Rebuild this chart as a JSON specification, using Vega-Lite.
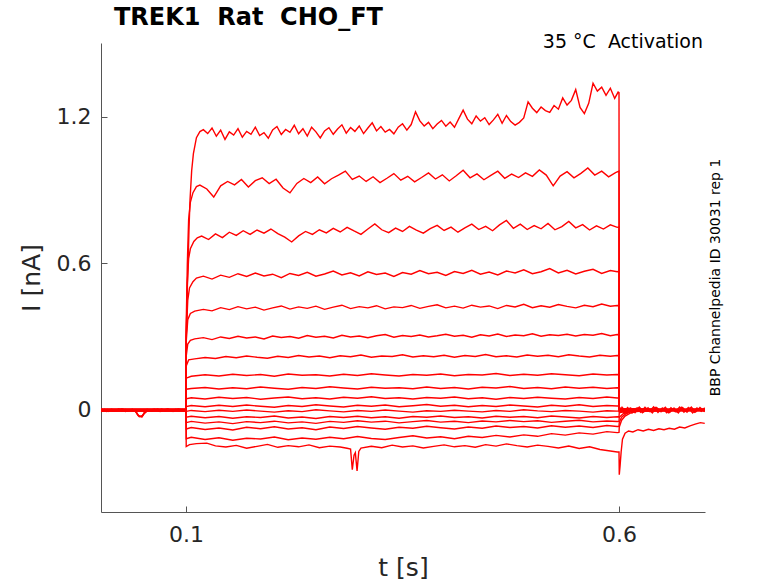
{
  "$schema": "https://vega.github.io/schema/vega-lite/v6.json",
  "width": 604,
  "height": 469,
  "autosize": {"type": "none"},
  "padding": {"left": 101, "top": 43, "right": 73, "bottom": 71},
  "background": "white",
  "title": {"text": "TREK1\u00a0 Rat\u00a0 CHO_FT", "anchor": "start", "frame": "group", "dx": 13, "offset": 3, "fontSize": 24, "fontWeight": "bold", "font": "DejaVu Sans", "color": "black"},
  "config": {
    "view": {"stroke": null},
    "font": "DejaVu Sans",
    "axis": {"grid": false, "domainColor": "#555555", "tickColor": "#555555", "tickSize": -6, "labelColor": "#262626", "titleColor": "#262626", "labelFont": "DejaVu Sans", "titleFont": "DejaVu Sans", "labelFontSize": 22, "titleFontSize": 25, "titleFontWeight": "normal"}
  },
  "data": {"values": [
    {"s":1,"t":0.002,"i":-0.004},{"s":1,"t":0.006,"i":0.003},{"s":1,"t":0.010,"i":-0.006},{"s":1,"t":0.014,"i":0.001},{"s":1,"t":0.018,"i":-0.003},{"s":1,"t":0.022,"i":0.004},{"s":1,"t":0.026,"i":-0.005},{"s":1,"t":0.030,"i":0.002},{"s":1,"t":0.034,"i":-0.002},{"s":1,"t":0.038,"i":0.003},{"s":1,"t":0.041,"i":-0.004},{"s":1,"t":0.043,"i":-0.012},{"s":1,"t":0.045,"i":-0.024},{"s":1,"t":0.047,"i":-0.027},{"s":1,"t":0.049,"i":-0.025},{"s":1,"t":0.051,"i":-0.016},{"s":1,"t":0.053,"i":-0.003},{"s":1,"t":0.056,"i":0.002},{"s":1,"t":0.060,"i":-0.004},{"s":1,"t":0.064,"i":0.003},{"s":1,"t":0.068,"i":-0.002},{"s":1,"t":0.072,"i":0.004},{"s":1,"t":0.076,"i":-0.005},{"s":1,"t":0.080,"i":0.001},{"s":1,"t":0.084,"i":-0.003},{"s":1,"t":0.088,"i":0.003},{"s":1,"t":0.092,"i":-0.004},{"s":1,"t":0.096,"i":0.002},{"s":1,"t":0.1,"i":-0.002},
    {"s":1,"t":0.1002,"i":0.3},{"s":1,"t":0.1015,"i":0.5},{"s":1,"t":0.1025,"i":0.62},{"s":1,"t":0.1035,"i":0.75},{"s":1,"t":0.1046,"i":0.86},{"s":1,"t":0.1065,"i":0.98},{"s":1,"t":0.1085,"i":1.05},{"s":1,"t":0.112,"i":1.115},{"s":1,"t":0.116,"i":1.14},{"s":1,"t":0.12,"i":1.148},
    {"s":1,"t":0.125,"i":1.132},{"s":1,"t":0.130,"i":1.155},{"s":1,"t":0.135,"i":1.121},{"s":1,"t":0.140,"i":1.146},{"s":1,"t":0.145,"i":1.108},{"s":1,"t":0.150,"i":1.139},{"s":1,"t":0.155,"i":1.126},{"s":1,"t":0.160,"i":1.152},{"s":1,"t":0.165,"i":1.117},{"s":1,"t":0.170,"i":1.141},{"s":1,"t":0.175,"i":1.129},{"s":1,"t":0.180,"i":1.158},{"s":1,"t":0.185,"i":1.124},{"s":1,"t":0.190,"i":1.136},{"s":1,"t":0.195,"i":1.113},{"s":1,"t":0.200,"i":1.147},{"s":1,"t":0.205,"i":1.161},{"s":1,"t":0.210,"i":1.128},{"s":1,"t":0.215,"i":1.149},{"s":1,"t":0.220,"i":1.137},{"s":1,"t":0.225,"i":1.166},{"s":1,"t":0.230,"i":1.131},{"s":1,"t":0.235,"i":1.152},{"s":1,"t":0.240,"i":1.122},{"s":1,"t":0.245,"i":1.158},{"s":1,"t":0.250,"i":1.139},{"s":1,"t":0.255,"i":1.114},{"s":1,"t":0.260,"i":1.143},{"s":1,"t":0.265,"i":1.156},{"s":1,"t":0.270,"i":1.129},{"s":1,"t":0.275,"i":1.151},{"s":1,"t":0.280,"i":1.168},{"s":1,"t":0.285,"i":1.134},{"s":1,"t":0.290,"i":1.157},{"s":1,"t":0.295,"i":1.141},{"s":1,"t":0.300,"i":1.163},{"s":1,"t":0.305,"i":1.132},{"s":1,"t":0.310,"i":1.155},{"s":1,"t":0.315,"i":1.176},{"s":1,"t":0.320,"i":1.143},{"s":1,"t":0.325,"i":1.161},{"s":1,"t":0.330,"i":1.138},{"s":1,"t":0.335,"i":1.149},{"s":1,"t":0.340,"i":1.131},{"s":1,"t":0.345,"i":1.158},{"s":1,"t":0.350,"i":1.172},{"s":1,"t":0.355,"i":1.146},{"s":1,"t":0.360,"i":1.169},{"s":1,"t":0.365,"i":1.221},{"s":1,"t":0.370,"i":1.184},{"s":1,"t":0.375,"i":1.163},{"s":1,"t":0.380,"i":1.178},{"s":1,"t":0.385,"i":1.152},{"s":1,"t":0.390,"i":1.171},{"s":1,"t":0.395,"i":1.186},{"s":1,"t":0.400,"i":1.162},{"s":1,"t":0.405,"i":1.179},{"s":1,"t":0.410,"i":1.158},{"s":1,"t":0.415,"i":1.193},{"s":1,"t":0.420,"i":1.228},{"s":1,"t":0.425,"i":1.191},{"s":1,"t":0.430,"i":1.172},{"s":1,"t":0.435,"i":1.204},{"s":1,"t":0.440,"i":1.183},{"s":1,"t":0.445,"i":1.197},{"s":1,"t":0.450,"i":1.169},{"s":1,"t":0.455,"i":1.188},{"s":1,"t":0.460,"i":1.211},{"s":1,"t":0.465,"i":1.174},{"s":1,"t":0.470,"i":1.206},{"s":1,"t":0.475,"i":1.181},{"s":1,"t":0.480,"i":1.167},{"s":1,"t":0.485,"i":1.178},{"s":1,"t":0.490,"i":1.196},{"s":1,"t":0.495,"i":1.262},{"s":1,"t":0.500,"i":1.236},{"s":1,"t":0.505,"i":1.218},{"s":1,"t":0.510,"i":1.241},{"s":1,"t":0.515,"i":1.226},{"s":1,"t":0.520,"i":1.219},{"s":1,"t":0.525,"i":1.247},{"s":1,"t":0.530,"i":1.232},{"s":1,"t":0.535,"i":1.278},{"s":1,"t":0.540,"i":1.249},{"s":1,"t":0.545,"i":1.268},{"s":1,"t":0.550,"i":1.312},{"s":1,"t":0.555,"i":1.239},{"s":1,"t":0.560,"i":1.214},{"s":1,"t":0.565,"i":1.256},{"s":1,"t":0.570,"i":1.338},{"s":1,"t":0.575,"i":1.306},{"s":1,"t":0.580,"i":1.322},{"s":1,"t":0.585,"i":1.289},{"s":1,"t":0.590,"i":1.318},{"s":1,"t":0.595,"i":1.276},{"s":1,"t":0.599,"i":1.302},{"s":1,"t":0.6,"i":1.3},
    {"s":1,"t":0.6003,"i":0.012},{"s":1,"t":0.605,"i":-0.008},{"s":1,"t":0.61,"i":0.01},{"s":1,"t":0.615,"i":-0.012},{"s":1,"t":0.62,"i":0.007},{"s":1,"t":0.625,"i":-0.009},{"s":1,"t":0.63,"i":0.011},{"s":1,"t":0.635,"i":-0.006},{"s":1,"t":0.64,"i":0.013},{"s":1,"t":0.645,"i":-0.01},{"s":1,"t":0.65,"i":0.008},{"s":1,"t":0.655,"i":-0.011},{"s":1,"t":0.66,"i":0.009},{"s":1,"t":0.665,"i":-0.007},{"s":1,"t":0.67,"i":0.012},{"s":1,"t":0.675,"i":-0.009},{"s":1,"t":0.68,"i":0.01},{"s":1,"t":0.685,"i":-0.012},{"s":1,"t":0.69,"i":0.008},{"s":1,"t":0.695,"i":-0.006},{"s":1,"t":0.699,"i":0.009},

    {"s":2,"t":0.002,"i":0.004},{"s":2,"t":0.008,"i":-0.006},{"s":2,"t":0.014,"i":0.003},{"s":2,"t":0.02,"i":-0.004},{"s":2,"t":0.026,"i":0.005},{"s":2,"t":0.032,"i":-0.003},{"s":2,"t":0.038,"i":0.002},{"s":2,"t":0.042,"i":-0.008},{"s":2,"t":0.044,"i":-0.02},{"s":2,"t":0.046,"i":-0.028},{"s":2,"t":0.048,"i":-0.026},{"s":2,"t":0.05,"i":-0.022},{"s":2,"t":0.052,"i":-0.01},{"s":2,"t":0.055,"i":0.003},{"s":2,"t":0.061,"i":-0.005},{"s":2,"t":0.067,"i":0.004},{"s":2,"t":0.073,"i":-0.003},{"s":2,"t":0.079,"i":0.005},{"s":2,"t":0.085,"i":-0.006},{"s":2,"t":0.091,"i":0.002},{"s":2,"t":0.097,"i":-0.004},{"s":2,"t":0.1,"i":0.001},
    {"s":2,"t":0.1002,"i":0.35},{"s":2,"t":0.1015,"i":0.6},{"s":2,"t":0.103,"i":0.78},{"s":2,"t":0.105,"i":0.85},{"s":2,"t":0.108,"i":0.89},{"s":2,"t":0.112,"i":0.915},
    {"s":2,"t":0.116,"i":0.921},{"s":2,"t":0.124,"i":0.905},{"s":2,"t":0.132,"i":0.872},{"s":2,"t":0.140,"i":0.918},{"s":2,"t":0.148,"i":0.936},{"s":2,"t":0.156,"i":0.922},{"s":2,"t":0.164,"i":0.944},{"s":2,"t":0.172,"i":0.913},{"s":2,"t":0.180,"i":0.939},{"s":2,"t":0.188,"i":0.951},{"s":2,"t":0.196,"i":0.927},{"s":2,"t":0.204,"i":0.945},{"s":2,"t":0.212,"i":0.909},{"s":2,"t":0.220,"i":0.889},{"s":2,"t":0.228,"i":0.928},{"s":2,"t":0.236,"i":0.948},{"s":2,"t":0.244,"i":0.931},{"s":2,"t":0.252,"i":0.954},{"s":2,"t":0.260,"i":0.926},{"s":2,"t":0.268,"i":0.947},{"s":2,"t":0.276,"i":0.962},{"s":2,"t":0.284,"i":0.978},{"s":2,"t":0.292,"i":0.944},{"s":2,"t":0.300,"i":0.958},{"s":2,"t":0.308,"i":0.936},{"s":2,"t":0.316,"i":0.955},{"s":2,"t":0.324,"i":0.931},{"s":2,"t":0.332,"i":0.949},{"s":2,"t":0.340,"i":0.968},{"s":2,"t":0.348,"i":0.941},{"s":2,"t":0.356,"i":0.957},{"s":2,"t":0.364,"i":0.934},{"s":2,"t":0.372,"i":0.952},{"s":2,"t":0.380,"i":0.971},{"s":2,"t":0.388,"i":0.946},{"s":2,"t":0.396,"i":0.963},{"s":2,"t":0.404,"i":0.938},{"s":2,"t":0.412,"i":0.959},{"s":2,"t":0.420,"i":0.982},{"s":2,"t":0.428,"i":0.951},{"s":2,"t":0.436,"i":0.967},{"s":2,"t":0.444,"i":0.943},{"s":2,"t":0.452,"i":0.961},{"s":2,"t":0.460,"i":0.978},{"s":2,"t":0.468,"i":0.949},{"s":2,"t":0.476,"i":0.966},{"s":2,"t":0.484,"i":0.952},{"s":2,"t":0.492,"i":0.971},{"s":2,"t":0.500,"i":0.957},{"s":2,"t":0.508,"i":0.983},{"s":2,"t":0.516,"i":0.962},{"s":2,"t":0.524,"i":0.918},{"s":2,"t":0.532,"i":0.958},{"s":2,"t":0.540,"i":0.976},{"s":2,"t":0.548,"i":0.951},{"s":2,"t":0.556,"i":0.969},{"s":2,"t":0.564,"i":0.991},{"s":2,"t":0.572,"i":0.962},{"s":2,"t":0.580,"i":0.978},{"s":2,"t":0.588,"i":0.955},{"s":2,"t":0.596,"i":0.972},{"s":2,"t":0.6,"i":0.978},
    {"s":2,"t":0.6003,"i":-0.01},{"s":2,"t":0.6035,"i":0.011},{"s":2,"t":0.6085,"i":-0.009},{"s":2,"t":0.6135,"i":0.008},{"s":2,"t":0.6185,"i":-0.011},{"s":2,"t":0.6235,"i":0.012},{"s":2,"t":0.6285,"i":-0.008},{"s":2,"t":0.6335,"i":0.009},{"s":2,"t":0.6385,"i":-0.012},{"s":2,"t":0.6435,"i":0.01},{"s":2,"t":0.6485,"i":-0.007},{"s":2,"t":0.6535,"i":0.011},{"s":2,"t":0.6585,"i":-0.01},{"s":2,"t":0.6635,"i":0.008},{"s":2,"t":0.6685,"i":-0.012},{"s":2,"t":0.6735,"i":0.01},{"s":2,"t":0.6785,"i":-0.009},{"s":2,"t":0.6835,"i":0.012},{"s":2,"t":0.6885,"i":-0.008},{"s":2,"t":0.6935,"i":0.01},{"s":2,"t":0.699,"i":-0.007},

    {"s":3,"t":0.002,"i":-0.007},{"s":3,"t":0.009,"i":0.002},{"s":3,"t":0.016,"i":-0.005},{"s":3,"t":0.023,"i":0.003},{"s":3,"t":0.03,"i":-0.006},{"s":3,"t":0.037,"i":0.001},{"s":3,"t":0.042,"i":-0.006},{"s":3,"t":0.045,"i":-0.022},{"s":3,"t":0.049,"i":-0.029},{"s":3,"t":0.052,"i":-0.014},{"s":3,"t":0.056,"i":-0.002},{"s":3,"t":0.063,"i":0.003},{"s":3,"t":0.07,"i":-0.006},{"s":3,"t":0.077,"i":0.002},{"s":3,"t":0.084,"i":-0.004},{"s":3,"t":0.091,"i":0.004},{"s":3,"t":0.1,"i":-0.003},
    {"s":3,"t":0.1002,"i":0.3},{"s":3,"t":0.1015,"i":0.52},{"s":3,"t":0.103,"i":0.62},{"s":3,"t":0.105,"i":0.66},{"s":3,"t":0.109,"i":0.69},{"s":3,"t":0.113,"i":0.705},
    {"s":3,"t":0.118,"i":0.712},{"s":3,"t":0.126,"i":0.698},{"s":3,"t":0.134,"i":0.721},{"s":3,"t":0.142,"i":0.706},{"s":3,"t":0.150,"i":0.728},{"s":3,"t":0.158,"i":0.715},{"s":3,"t":0.166,"i":0.734},{"s":3,"t":0.174,"i":0.719},{"s":3,"t":0.182,"i":0.737},{"s":3,"t":0.190,"i":0.724},{"s":3,"t":0.198,"i":0.741},{"s":3,"t":0.206,"i":0.722},{"s":3,"t":0.214,"i":0.708},{"s":3,"t":0.222,"i":0.688},{"s":3,"t":0.230,"i":0.713},{"s":3,"t":0.238,"i":0.731},{"s":3,"t":0.246,"i":0.719},{"s":3,"t":0.254,"i":0.738},{"s":3,"t":0.262,"i":0.725},{"s":3,"t":0.270,"i":0.744},{"s":3,"t":0.278,"i":0.729},{"s":3,"t":0.286,"i":0.748},{"s":3,"t":0.294,"i":0.733},{"s":3,"t":0.302,"i":0.719},{"s":3,"t":0.310,"i":0.741},{"s":3,"t":0.318,"i":0.762},{"s":3,"t":0.326,"i":0.738},{"s":3,"t":0.334,"i":0.726},{"s":3,"t":0.342,"i":0.745},{"s":3,"t":0.350,"i":0.731},{"s":3,"t":0.358,"i":0.752},{"s":3,"t":0.366,"i":0.737},{"s":3,"t":0.374,"i":0.724},{"s":3,"t":0.382,"i":0.743},{"s":3,"t":0.390,"i":0.756},{"s":3,"t":0.398,"i":0.735},{"s":3,"t":0.406,"i":0.749},{"s":3,"t":0.414,"i":0.728},{"s":3,"t":0.422,"i":0.746},{"s":3,"t":0.430,"i":0.761},{"s":3,"t":0.438,"i":0.739},{"s":3,"t":0.446,"i":0.752},{"s":3,"t":0.454,"i":0.734},{"s":3,"t":0.462,"i":0.758},{"s":3,"t":0.470,"i":0.776},{"s":3,"t":0.478,"i":0.744},{"s":3,"t":0.486,"i":0.761},{"s":3,"t":0.494,"i":0.739},{"s":3,"t":0.502,"i":0.755},{"s":3,"t":0.510,"i":0.742},{"s":3,"t":0.518,"i":0.764},{"s":3,"t":0.526,"i":0.738},{"s":3,"t":0.534,"i":0.751},{"s":3,"t":0.542,"i":0.772},{"s":3,"t":0.550,"i":0.746},{"s":3,"t":0.558,"i":0.759},{"s":3,"t":0.566,"i":0.737},{"s":3,"t":0.574,"i":0.754},{"s":3,"t":0.582,"i":0.741},{"s":3,"t":0.590,"i":0.758},{"s":3,"t":0.598,"i":0.748},{"s":3,"t":0.6,"i":0.75},
    {"s":3,"t":0.6003,"i":0.004},{"s":3,"t":0.607,"i":-0.013},{"s":3,"t":0.612,"i":0.006},{"s":3,"t":0.617,"i":-0.004},{"s":3,"t":0.622,"i":0.009},{"s":3,"t":0.627,"i":-0.011},{"s":3,"t":0.632,"i":0.005},{"s":3,"t":0.637,"i":-0.008},{"s":3,"t":0.642,"i":0.01},{"s":3,"t":0.647,"i":-0.005},{"s":3,"t":0.652,"i":0.007},{"s":3,"t":0.657,"i":-0.012},{"s":3,"t":0.662,"i":0.004},{"s":3,"t":0.667,"i":-0.009},{"s":3,"t":0.672,"i":0.011},{"s":3,"t":0.677,"i":-0.006},{"s":3,"t":0.682,"i":0.008},{"s":3,"t":0.687,"i":-0.01},{"s":3,"t":0.692,"i":0.005},{"s":3,"t":0.699,"i":-0.004},

    {"s":4,"t":0.002,"i":-0.002},{"s":4,"t":0.1,"i":-0.002},{"s":4,"t":0.1002,"i":0.3},{"s":4,"t":0.102,"i":0.45},{"s":4,"t":0.104,"i":0.5},{"s":4,"t":0.108,"i":0.525},{"s":4,"t":0.112,"i":0.54},
    {"s":4,"t":0.12,"i":0.548},{"s":4,"t":0.13,"i":0.536},{"s":4,"t":0.14,"i":0.552},{"s":4,"t":0.15,"i":0.543},{"s":4,"t":0.16,"i":0.558},{"s":4,"t":0.17,"i":0.547},{"s":4,"t":0.18,"i":0.561},{"s":4,"t":0.19,"i":0.549},{"s":4,"t":0.2,"i":0.556},{"s":4,"t":0.21,"i":0.542},{"s":4,"t":0.22,"i":0.559},{"s":4,"t":0.23,"i":0.551},{"s":4,"t":0.24,"i":0.564},{"s":4,"t":0.25,"i":0.548},{"s":4,"t":0.26,"i":0.557},{"s":4,"t":0.27,"i":0.569},{"s":4,"t":0.28,"i":0.553},{"s":4,"t":0.29,"i":0.562},{"s":4,"t":0.3,"i":0.549},{"s":4,"t":0.31,"i":0.566},{"s":4,"t":0.32,"i":0.555},{"s":4,"t":0.33,"i":0.561},{"s":4,"t":0.34,"i":0.547},{"s":4,"t":0.35,"i":0.563},{"s":4,"t":0.36,"i":0.556},{"s":4,"t":0.37,"i":0.571},{"s":4,"t":0.38,"i":0.558},{"s":4,"t":0.39,"i":0.564},{"s":4,"t":0.4,"i":0.551},{"s":4,"t":0.41,"i":0.567},{"s":4,"t":0.42,"i":0.559},{"s":4,"t":0.43,"i":0.572},{"s":4,"t":0.44,"i":0.556},{"s":4,"t":0.45,"i":0.565},{"s":4,"t":0.46,"i":0.553},{"s":4,"t":0.47,"i":0.569},{"s":4,"t":0.48,"i":0.561},{"s":4,"t":0.49,"i":0.574},{"s":4,"t":0.5,"i":0.558},{"s":4,"t":0.51,"i":0.566},{"s":4,"t":0.52,"i":0.579},{"s":4,"t":0.53,"i":0.561},{"s":4,"t":0.54,"i":0.572},{"s":4,"t":0.55,"i":0.557},{"s":4,"t":0.56,"i":0.568},{"s":4,"t":0.57,"i":0.576},{"s":4,"t":0.58,"i":0.559},{"s":4,"t":0.59,"i":0.571},{"s":4,"t":0.598,"i":0.566},{"s":4,"t":0.6,"i":0.568},{"s":4,"t":0.6003,"i":0.004},{"s":4,"t":0.699,"i":0.002},

    {"s":5,"t":0.002,"i":0.001},{"s":5,"t":0.1,"i":0.001},{"s":5,"t":0.1002,"i":0.28},{"s":5,"t":0.102,"i":0.37},{"s":5,"t":0.105,"i":0.395},{"s":5,"t":0.11,"i":0.405},
    {"s":5,"t":0.12,"i":0.412},{"s":5,"t":0.13,"i":0.406},{"s":5,"t":0.14,"i":0.419},{"s":5,"t":0.15,"i":0.411},{"s":5,"t":0.16,"i":0.423},{"s":5,"t":0.17,"i":0.414},{"s":5,"t":0.18,"i":0.421},{"s":5,"t":0.19,"i":0.409},{"s":5,"t":0.2,"i":0.418},{"s":5,"t":0.21,"i":0.426},{"s":5,"t":0.22,"i":0.413},{"s":5,"t":0.23,"i":0.422},{"s":5,"t":0.24,"i":0.416},{"s":5,"t":0.25,"i":0.425},{"s":5,"t":0.26,"i":0.412},{"s":5,"t":0.27,"i":0.421},{"s":5,"t":0.28,"i":0.429},{"s":5,"t":0.29,"i":0.415},{"s":5,"t":0.3,"i":0.423},{"s":5,"t":0.31,"i":0.418},{"s":5,"t":0.32,"i":0.427},{"s":5,"t":0.33,"i":0.414},{"s":5,"t":0.34,"i":0.422},{"s":5,"t":0.35,"i":0.419},{"s":5,"t":0.36,"i":0.428},{"s":5,"t":0.37,"i":0.416},{"s":5,"t":0.38,"i":0.424},{"s":5,"t":0.39,"i":0.431},{"s":5,"t":0.4,"i":0.418},{"s":5,"t":0.41,"i":0.425},{"s":5,"t":0.42,"i":0.417},{"s":5,"t":0.43,"i":0.429},{"s":5,"t":0.44,"i":0.421},{"s":5,"t":0.45,"i":0.426},{"s":5,"t":0.46,"i":0.415},{"s":5,"t":0.47,"i":0.428},{"s":5,"t":0.48,"i":0.422},{"s":5,"t":0.49,"i":0.433},{"s":5,"t":0.5,"i":0.419},{"s":5,"t":0.51,"i":0.427},{"s":5,"t":0.52,"i":0.421},{"s":5,"t":0.53,"i":0.432},{"s":5,"t":0.54,"i":0.424},{"s":5,"t":0.55,"i":0.418},{"s":5,"t":0.56,"i":0.429},{"s":5,"t":0.57,"i":0.423},{"s":5,"t":0.58,"i":0.434},{"s":5,"t":0.59,"i":0.425},{"s":5,"t":0.598,"i":0.428},{"s":5,"t":0.6,"i":0.427},{"s":5,"t":0.6003,"i":-0.003},{"s":5,"t":0.699,"i":0.001},

    {"s":6,"t":0.002,"i":-0.003},{"s":6,"t":0.1,"i":-0.003},{"s":6,"t":0.1002,"i":0.22},{"s":6,"t":0.102,"i":0.27},{"s":6,"t":0.105,"i":0.285},
    {"s":6,"t":0.11,"i":0.291},{"s":6,"t":0.12,"i":0.296},{"s":6,"t":0.13,"i":0.288},{"s":6,"t":0.14,"i":0.299},{"s":6,"t":0.15,"i":0.293},{"s":6,"t":0.16,"i":0.302},{"s":6,"t":0.17,"i":0.295},{"s":6,"t":0.18,"i":0.299},{"s":6,"t":0.19,"i":0.291},{"s":6,"t":0.2,"i":0.303},{"s":6,"t":0.21,"i":0.297},{"s":6,"t":0.22,"i":0.301},{"s":6,"t":0.23,"i":0.294},{"s":6,"t":0.24,"i":0.305},{"s":6,"t":0.25,"i":0.298},{"s":6,"t":0.26,"i":0.302},{"s":6,"t":0.27,"i":0.295},{"s":6,"t":0.28,"i":0.306},{"s":6,"t":0.29,"i":0.299},{"s":6,"t":0.3,"i":0.303},{"s":6,"t":0.31,"i":0.296},{"s":6,"t":0.32,"i":0.304},{"s":6,"t":0.33,"i":0.309},{"s":6,"t":0.34,"i":0.298},{"s":6,"t":0.35,"i":0.305},{"s":6,"t":0.36,"i":0.301},{"s":6,"t":0.37,"i":0.307},{"s":6,"t":0.38,"i":0.299},{"s":6,"t":0.39,"i":0.304},{"s":6,"t":0.4,"i":0.31},{"s":6,"t":0.41,"i":0.302},{"s":6,"t":0.42,"i":0.306},{"s":6,"t":0.43,"i":0.298},{"s":6,"t":0.44,"i":0.308},{"s":6,"t":0.45,"i":0.303},{"s":6,"t":0.46,"i":0.311},{"s":6,"t":0.47,"i":0.301},{"s":6,"t":0.48,"i":0.307},{"s":6,"t":0.49,"i":0.304},{"s":6,"t":0.5,"i":0.312},{"s":6,"t":0.51,"i":0.302},{"s":6,"t":0.52,"i":0.308},{"s":6,"t":0.53,"i":0.305},{"s":6,"t":0.54,"i":0.31},{"s":6,"t":0.55,"i":0.303},{"s":6,"t":0.56,"i":0.309},{"s":6,"t":0.57,"i":0.306},{"s":6,"t":0.58,"i":0.313},{"s":6,"t":0.59,"i":0.304},{"s":6,"t":0.598,"i":0.309},{"s":6,"t":0.6,"i":0.308},{"s":6,"t":0.6003,"i":0.005},{"s":6,"t":0.699,"i":-0.001},

    {"s":7,"t":0.002,"i":0.0},{"s":7,"t":0.1,"i":0.0},{"s":7,"t":0.1002,"i":0.18},{"s":7,"t":0.103,"i":0.205},
    {"s":7,"t":0.11,"i":0.209},{"s":7,"t":0.122,"i":0.215},{"s":7,"t":0.134,"i":0.211},{"s":7,"t":0.146,"i":0.219},{"s":7,"t":0.158,"i":0.214},{"s":7,"t":0.17,"i":0.221},{"s":7,"t":0.182,"i":0.216},{"s":7,"t":0.194,"i":0.212},{"s":7,"t":0.206,"i":0.22},{"s":7,"t":0.218,"i":0.215},{"s":7,"t":0.23,"i":0.223},{"s":7,"t":0.242,"i":0.217},{"s":7,"t":0.254,"i":0.221},{"s":7,"t":0.266,"i":0.214},{"s":7,"t":0.278,"i":0.222},{"s":7,"t":0.29,"i":0.218},{"s":7,"t":0.302,"i":0.225},{"s":7,"t":0.314,"i":0.216},{"s":7,"t":0.326,"i":0.221},{"s":7,"t":0.338,"i":0.219},{"s":7,"t":0.35,"i":0.226},{"s":7,"t":0.362,"i":0.217},{"s":7,"t":0.374,"i":0.222},{"s":7,"t":0.386,"i":0.218},{"s":7,"t":0.398,"i":0.224},{"s":7,"t":0.41,"i":0.216},{"s":7,"t":0.422,"i":0.223},{"s":7,"t":0.434,"i":0.219},{"s":7,"t":0.446,"i":0.227},{"s":7,"t":0.458,"i":0.218},{"s":7,"t":0.47,"i":0.222},{"s":7,"t":0.482,"i":0.217},{"s":7,"t":0.494,"i":0.225},{"s":7,"t":0.506,"i":0.22},{"s":7,"t":0.518,"i":0.224},{"s":7,"t":0.53,"i":0.218},{"s":7,"t":0.542,"i":0.226},{"s":7,"t":0.554,"i":0.221},{"s":7,"t":0.566,"i":0.217},{"s":7,"t":0.578,"i":0.224},{"s":7,"t":0.59,"i":0.22},{"s":7,"t":0.598,"i":0.223},{"s":7,"t":0.6,"i":0.222},{"s":7,"t":0.6003,"i":-0.004},{"s":7,"t":0.699,"i":0.002},

    {"s":8,"t":0.002,"i":0.002},{"s":8,"t":0.1,"i":0.002},{"s":8,"t":0.1002,"i":0.13},
    {"s":8,"t":0.106,"i":0.138},{"s":8,"t":0.122,"i":0.144},{"s":8,"t":0.138,"i":0.139},{"s":8,"t":0.154,"i":0.146},{"s":8,"t":0.17,"i":0.141},{"s":8,"t":0.186,"i":0.145},{"s":8,"t":0.202,"i":0.138},{"s":8,"t":0.218,"i":0.147},{"s":8,"t":0.234,"i":0.142},{"s":8,"t":0.25,"i":0.144},{"s":8,"t":0.266,"i":0.139},{"s":8,"t":0.282,"i":0.146},{"s":8,"t":0.298,"i":0.141},{"s":8,"t":0.314,"i":0.148},{"s":8,"t":0.33,"i":0.143},{"s":8,"t":0.346,"i":0.139},{"s":8,"t":0.362,"i":0.145},{"s":8,"t":0.378,"i":0.142},{"s":8,"t":0.394,"i":0.147},{"s":8,"t":0.41,"i":0.14},{"s":8,"t":0.426,"i":0.145},{"s":8,"t":0.442,"i":0.143},{"s":8,"t":0.458,"i":0.149},{"s":8,"t":0.474,"i":0.141},{"s":8,"t":0.49,"i":0.146},{"s":8,"t":0.506,"i":0.142},{"s":8,"t":0.522,"i":0.148},{"s":8,"t":0.538,"i":0.144},{"s":8,"t":0.554,"i":0.14},{"s":8,"t":0.57,"i":0.147},{"s":8,"t":0.586,"i":0.143},{"s":8,"t":0.598,"i":0.145},{"s":8,"t":0.6,"i":0.144},{"s":8,"t":0.6003,"i":0.006},{"s":8,"t":0.699,"i":-0.002},

    {"s":9,"t":0.002,"i":-0.001},{"s":9,"t":0.1,"i":-0.001},{"s":9,"t":0.1002,"i":0.085},
    {"s":9,"t":0.106,"i":0.088},{"s":9,"t":0.122,"i":0.092},{"s":9,"t":0.138,"i":0.086},{"s":9,"t":0.154,"i":0.091},{"s":9,"t":0.17,"i":0.087},{"s":9,"t":0.186,"i":0.094},{"s":9,"t":0.202,"i":0.089},{"s":9,"t":0.218,"i":0.085},{"s":9,"t":0.234,"i":0.092},{"s":9,"t":0.25,"i":0.088},{"s":9,"t":0.266,"i":0.095},{"s":9,"t":0.282,"i":0.09},{"s":9,"t":0.298,"i":0.086},{"s":9,"t":0.314,"i":0.093},{"s":9,"t":0.33,"i":0.089},{"s":9,"t":0.346,"i":0.091},{"s":9,"t":0.362,"i":0.087},{"s":9,"t":0.378,"i":0.094},{"s":9,"t":0.394,"i":0.088},{"s":9,"t":0.41,"i":0.092},{"s":9,"t":0.426,"i":0.086},{"s":9,"t":0.442,"i":0.093},{"s":9,"t":0.458,"i":0.09},{"s":9,"t":0.474,"i":0.096},{"s":9,"t":0.49,"i":0.088},{"s":9,"t":0.506,"i":0.092},{"s":9,"t":0.522,"i":0.087},{"s":9,"t":0.538,"i":0.094},{"s":9,"t":0.554,"i":0.089},{"s":9,"t":0.57,"i":0.093},{"s":9,"t":0.586,"i":0.088},{"s":9,"t":0.598,"i":0.091},{"s":9,"t":0.6,"i":0.09},{"s":9,"t":0.6003,"i":-0.005},{"s":9,"t":0.699,"i":0.003},

    {"s":10,"t":0.002,"i":0.003},{"s":10,"t":0.1,"i":0.003},{"s":10,"t":0.1002,"i":0.046},
    {"s":10,"t":0.106,"i":0.05},{"s":10,"t":0.122,"i":0.045},{"s":10,"t":0.138,"i":0.052},{"s":10,"t":0.154,"i":0.047},{"s":10,"t":0.17,"i":0.051},{"s":10,"t":0.186,"i":0.044},{"s":10,"t":0.202,"i":0.049},{"s":10,"t":0.218,"i":0.053},{"s":10,"t":0.234,"i":0.046},{"s":10,"t":0.25,"i":0.05},{"s":10,"t":0.266,"i":0.045},{"s":10,"t":0.282,"i":0.052},{"s":10,"t":0.298,"i":0.048},{"s":10,"t":0.314,"i":0.054},{"s":10,"t":0.33,"i":0.047},{"s":10,"t":0.346,"i":0.05},{"s":10,"t":0.362,"i":0.045},{"s":10,"t":0.378,"i":0.051},{"s":10,"t":0.394,"i":0.048},{"s":10,"t":0.41,"i":0.053},{"s":10,"t":0.426,"i":0.046},{"s":10,"t":0.442,"i":0.05},{"s":10,"t":0.458,"i":0.044},{"s":10,"t":0.474,"i":0.051},{"s":10,"t":0.49,"i":0.047},{"s":10,"t":0.506,"i":0.052},{"s":10,"t":0.522,"i":0.048},{"s":10,"t":0.538,"i":0.045},{"s":10,"t":0.554,"i":0.051},{"s":10,"t":0.57,"i":0.047},{"s":10,"t":0.586,"i":0.053},{"s":10,"t":0.598,"i":0.049},{"s":10,"t":0.6,"i":0.05},{"s":10,"t":0.6003,"i":0.003},{"s":10,"t":0.699,"i":-0.003},

    {"s":11,"t":0.002,"i":-0.004},{"s":11,"t":0.1,"i":-0.004},{"s":11,"t":0.1002,"i":0.014},
    {"s":11,"t":0.106,"i":0.018},{"s":11,"t":0.122,"i":0.013},{"s":11,"t":0.138,"i":0.019},{"s":11,"t":0.154,"i":0.014},{"s":11,"t":0.17,"i":0.02},{"s":11,"t":0.186,"i":0.015},{"s":11,"t":0.202,"i":0.011},{"s":11,"t":0.218,"i":0.018},{"s":11,"t":0.234,"i":0.014},{"s":11,"t":0.25,"i":0.021},{"s":11,"t":0.266,"i":0.016},{"s":11,"t":0.282,"i":0.012},{"s":11,"t":0.298,"i":0.019},{"s":11,"t":0.314,"i":0.015},{"s":11,"t":0.33,"i":0.02},{"s":11,"t":0.346,"i":0.013},{"s":11,"t":0.362,"i":0.017},{"s":11,"t":0.378,"i":0.022},{"s":11,"t":0.394,"i":0.015},{"s":11,"t":0.41,"i":0.019},{"s":11,"t":0.426,"i":0.013},{"s":11,"t":0.442,"i":0.018},{"s":11,"t":0.458,"i":0.014},{"s":11,"t":0.474,"i":0.02},{"s":11,"t":0.49,"i":0.016},{"s":11,"t":0.506,"i":0.012},{"s":11,"t":0.522,"i":0.019},{"s":11,"t":0.538,"i":0.015},{"s":11,"t":0.554,"i":0.021},{"s":11,"t":0.57,"i":0.014},{"s":11,"t":0.586,"i":0.018},{"s":11,"t":0.598,"i":0.016},{"s":11,"t":0.6,"i":0.017},{"s":11,"t":0.6003,"i":0.001},{"s":11,"t":0.699,"i":0.004},

    {"s":12,"t":0.1002,"i":-0.006},{"s":12,"t":0.106,"i":-0.002},{"s":12,"t":0.122,"i":-0.007},{"s":12,"t":0.138,"i":-0.001},{"s":12,"t":0.154,"i":-0.006},{"s":12,"t":0.17,"i":0.0},{"s":12,"t":0.186,"i":-0.005},{"s":12,"t":0.202,"i":-0.009},{"s":12,"t":0.218,"i":-0.003},{"s":12,"t":0.234,"i":-0.007},{"s":12,"t":0.25,"i":0.001},{"s":12,"t":0.266,"i":-0.004},{"s":12,"t":0.282,"i":-0.008},{"s":12,"t":0.298,"i":-0.002},{"s":12,"t":0.314,"i":-0.006},{"s":12,"t":0.33,"i":0.0},{"s":12,"t":0.346,"i":-0.005},{"s":12,"t":0.362,"i":-0.009},{"s":12,"t":0.378,"i":-0.003},{"s":12,"t":0.394,"i":-0.006},{"s":12,"t":0.41,"i":-0.001},{"s":12,"t":0.426,"i":-0.005},{"s":12,"t":0.442,"i":-0.008},{"s":12,"t":0.458,"i":-0.002},{"s":12,"t":0.474,"i":-0.006},{"s":12,"t":0.49,"i":0.001},{"s":12,"t":0.506,"i":-0.004},{"s":12,"t":0.522,"i":-0.007},{"s":12,"t":0.538,"i":-0.002},{"s":12,"t":0.554,"i":-0.005},{"s":12,"t":0.57,"i":-0.009},{"s":12,"t":0.586,"i":-0.003},{"s":12,"t":0.598,"i":-0.005},{"s":12,"t":0.6,"i":-0.004},

    {"s":13,"t":0.002,"i":0.001},{"s":13,"t":0.1,"i":0.001},{"s":13,"t":0.1002,"i":-0.03},
    {"s":13,"t":0.106,"i":-0.026},{"s":13,"t":0.122,"i":-0.032},{"s":13,"t":0.138,"i":-0.027},{"s":13,"t":0.154,"i":-0.034},{"s":13,"t":0.17,"i":-0.028},{"s":13,"t":0.186,"i":-0.031},{"s":13,"t":0.202,"i":-0.025},{"s":13,"t":0.218,"i":-0.033},{"s":13,"t":0.234,"i":-0.029},{"s":13,"t":0.25,"i":-0.035},{"s":13,"t":0.266,"i":-0.027},{"s":13,"t":0.282,"i":-0.031},{"s":13,"t":0.298,"i":-0.026},{"s":13,"t":0.314,"i":-0.032},{"s":13,"t":0.33,"i":-0.028},{"s":13,"t":0.346,"i":-0.034},{"s":13,"t":0.362,"i":-0.027},{"s":13,"t":0.378,"i":-0.03},{"s":13,"t":0.394,"i":-0.025},{"s":13,"t":0.41,"i":-0.031},{"s":13,"t":0.426,"i":-0.028},{"s":13,"t":0.442,"i":-0.033},{"s":13,"t":0.458,"i":-0.026},{"s":13,"t":0.474,"i":-0.03},{"s":13,"t":0.49,"i":-0.027},{"s":13,"t":0.506,"i":-0.032},{"s":13,"t":0.522,"i":-0.025},{"s":13,"t":0.538,"i":-0.029},{"s":13,"t":0.554,"i":-0.033},{"s":13,"t":0.57,"i":-0.027},{"s":13,"t":0.586,"i":-0.031},{"s":13,"t":0.598,"i":-0.028},{"s":13,"t":0.6,"i":-0.029},{"s":13,"t":0.6003,"i":-0.012},{"s":13,"t":0.61,"i":-0.004},{"s":13,"t":0.699,"i":0.0},

    {"s":14,"t":0.002,"i":-0.005},{"s":14,"t":0.1,"i":-0.005},{"s":14,"t":0.1002,"i":-0.052},
    {"s":14,"t":0.106,"i":-0.047},{"s":14,"t":0.122,"i":-0.054},{"s":14,"t":0.138,"i":-0.049},{"s":14,"t":0.154,"i":-0.056},{"s":14,"t":0.17,"i":-0.048},{"s":14,"t":0.186,"i":-0.052},{"s":14,"t":0.202,"i":-0.046},{"s":14,"t":0.218,"i":-0.053},{"s":14,"t":0.234,"i":-0.049},{"s":14,"t":0.25,"i":-0.055},{"s":14,"t":0.266,"i":-0.047},{"s":14,"t":0.282,"i":-0.051},{"s":14,"t":0.298,"i":-0.044},{"s":14,"t":0.314,"i":-0.05},{"s":14,"t":0.33,"i":-0.046},{"s":14,"t":0.346,"i":-0.053},{"s":14,"t":0.362,"i":-0.048},{"s":14,"t":0.378,"i":-0.043},{"s":14,"t":0.394,"i":-0.05},{"s":14,"t":0.41,"i":-0.046},{"s":14,"t":0.426,"i":-0.052},{"s":14,"t":0.442,"i":-0.045},{"s":14,"t":0.458,"i":-0.049},{"s":14,"t":0.474,"i":-0.043},{"s":14,"t":0.49,"i":-0.048},{"s":14,"t":0.506,"i":-0.044},{"s":14,"t":0.522,"i":-0.051},{"s":14,"t":0.538,"i":-0.046},{"s":14,"t":0.554,"i":-0.042},{"s":14,"t":0.57,"i":-0.049},{"s":14,"t":0.586,"i":-0.045},{"s":14,"t":0.598,"i":-0.047},{"s":14,"t":0.6,"i":-0.046},{"s":14,"t":0.6003,"i":-0.03},{"s":14,"t":0.605,"i":-0.015},{"s":14,"t":0.615,"i":-0.006},{"s":14,"t":0.699,"i":-0.002},

    {"s":15,"t":0.002,"i":0.003},{"s":15,"t":0.1,"i":0.003},{"s":15,"t":0.1002,"i":-0.078},
    {"s":15,"t":0.106,"i":-0.072},{"s":15,"t":0.122,"i":-0.08},{"s":15,"t":0.138,"i":-0.074},{"s":15,"t":0.154,"i":-0.082},{"s":15,"t":0.17,"i":-0.071},{"s":15,"t":0.186,"i":-0.077},{"s":15,"t":0.202,"i":-0.069},{"s":15,"t":0.218,"i":-0.078},{"s":15,"t":0.234,"i":-0.073},{"s":15,"t":0.25,"i":-0.081},{"s":15,"t":0.266,"i":-0.07},{"s":15,"t":0.282,"i":-0.076},{"s":15,"t":0.298,"i":-0.068},{"s":15,"t":0.314,"i":-0.074},{"s":15,"t":0.33,"i":-0.079},{"s":15,"t":0.346,"i":-0.071},{"s":15,"t":0.362,"i":-0.075},{"s":15,"t":0.378,"i":-0.067},{"s":15,"t":0.394,"i":-0.073},{"s":15,"t":0.41,"i":-0.078},{"s":15,"t":0.426,"i":-0.07},{"s":15,"t":0.442,"i":-0.075},{"s":15,"t":0.458,"i":-0.066},{"s":15,"t":0.474,"i":-0.072},{"s":15,"t":0.49,"i":-0.068},{"s":15,"t":0.506,"i":-0.074},{"s":15,"t":0.522,"i":-0.065},{"s":15,"t":0.538,"i":-0.071},{"s":15,"t":0.554,"i":-0.066},{"s":15,"t":0.57,"i":-0.072},{"s":15,"t":0.586,"i":-0.064},{"s":15,"t":0.598,"i":-0.068},{"s":15,"t":0.6,"i":-0.067},{"s":15,"t":0.6003,"i":-0.05},{"s":15,"t":0.603,"i":-0.03},{"s":15,"t":0.607,"i":-0.018},{"s":15,"t":0.613,"i":-0.008},{"s":15,"t":0.62,"i":-0.003},{"s":15,"t":0.699,"i":0.0},

    {"s":16,"t":0.002,"i":-0.002},{"s":16,"t":0.1,"i":-0.002},{"s":16,"t":0.1002,"i":-0.118},
    {"s":16,"t":0.106,"i":-0.112},{"s":16,"t":0.122,"i":-0.121},{"s":16,"t":0.138,"i":-0.114},{"s":16,"t":0.154,"i":-0.124},{"s":16,"t":0.17,"i":-0.116},{"s":16,"t":0.186,"i":-0.119},{"s":16,"t":0.202,"i":-0.111},{"s":16,"t":0.218,"i":-0.122},{"s":16,"t":0.234,"i":-0.115},{"s":16,"t":0.25,"i":-0.12},{"s":16,"t":0.266,"i":-0.112},{"s":16,"t":0.282,"i":-0.118},{"s":16,"t":0.298,"i":-0.109},{"s":16,"t":0.314,"i":-0.117},{"s":16,"t":0.33,"i":-0.121},{"s":16,"t":0.346,"i":-0.113},{"s":16,"t":0.362,"i":-0.106},{"s":16,"t":0.378,"i":-0.115},{"s":16,"t":0.394,"i":-0.11},{"s":16,"t":0.41,"i":-0.118},{"s":16,"t":0.426,"i":-0.108},{"s":16,"t":0.442,"i":-0.113},{"s":16,"t":0.458,"i":-0.104},{"s":16,"t":0.474,"i":-0.111},{"s":16,"t":0.49,"i":-0.102},{"s":16,"t":0.506,"i":-0.108},{"s":16,"t":0.522,"i":-0.097},{"s":16,"t":0.538,"i":-0.103},{"s":16,"t":0.554,"i":-0.094},{"s":16,"t":0.57,"i":-0.099},{"s":16,"t":0.586,"i":-0.089},{"s":16,"t":0.598,"i":-0.093},{"s":16,"t":0.6,"i":-0.092},{"s":16,"t":0.6003,"i":-0.07},{"s":16,"t":0.603,"i":-0.042},{"s":16,"t":0.607,"i":-0.025},{"s":16,"t":0.613,"i":-0.013},{"s":16,"t":0.62,"i":-0.007},{"s":16,"t":0.63,"i":-0.004},{"s":16,"t":0.699,"i":-0.002},

    {"s":17,"t":0.002,"i":0.002},{"s":17,"t":0.1,"i":0.002},{"s":17,"t":0.1002,"i":-0.15},
    {"s":17,"t":0.104,"i":-0.142},{"s":17,"t":0.112,"i":-0.138},{"s":17,"t":0.124,"i":-0.136},{"s":17,"t":0.134,"i":-0.147},{"s":17,"t":0.146,"i":-0.152},{"s":17,"t":0.158,"i":-0.145},{"s":17,"t":0.17,"i":-0.157},{"s":17,"t":0.182,"i":-0.149},{"s":17,"t":0.194,"i":-0.141},{"s":17,"t":0.206,"i":-0.153},{"s":17,"t":0.218,"i":-0.146},{"s":17,"t":0.23,"i":-0.151},{"s":17,"t":0.242,"i":-0.143},{"s":17,"t":0.254,"i":-0.155},{"s":17,"t":0.266,"i":-0.148},{"s":17,"t":0.278,"i":-0.152},{"s":17,"t":0.286,"i":-0.157},{"s":17,"t":0.29,"i":-0.16},{"s":17,"t":0.292,"i":-0.245},{"s":17,"t":0.294,"i":-0.185},{"s":17,"t":0.2955,"i":-0.175},{"s":17,"t":0.2975,"i":-0.25},{"s":17,"t":0.2995,"i":-0.17},{"s":17,"t":0.302,"i":-0.156},{"s":17,"t":0.314,"i":-0.149},{"s":17,"t":0.326,"i":-0.155},{"s":17,"t":0.338,"i":-0.144},{"s":17,"t":0.35,"i":-0.152},{"s":17,"t":0.362,"i":-0.147},{"s":17,"t":0.374,"i":-0.156},{"s":17,"t":0.386,"i":-0.149},{"s":17,"t":0.398,"i":-0.143},{"s":17,"t":0.41,"i":-0.151},{"s":17,"t":0.422,"i":-0.146},{"s":17,"t":0.434,"i":-0.153},{"s":17,"t":0.446,"i":-0.142},{"s":17,"t":0.458,"i":-0.148},{"s":17,"t":0.47,"i":-0.139},{"s":17,"t":0.482,"i":-0.146},{"s":17,"t":0.494,"i":-0.152},{"s":17,"t":0.506,"i":-0.144},{"s":17,"t":0.518,"i":-0.149},{"s":17,"t":0.53,"i":-0.156},{"s":17,"t":0.542,"i":-0.148},{"s":17,"t":0.554,"i":-0.158},{"s":17,"t":0.566,"i":-0.151},{"s":17,"t":0.578,"i":-0.162},{"s":17,"t":0.59,"i":-0.168},{"s":17,"t":0.598,"i":-0.172},{"s":17,"t":0.6,"i":-0.172},
    {"s":17,"t":0.6003,"i":-0.265},{"s":17,"t":0.6012,"i":-0.23},{"s":17,"t":0.6025,"i":-0.17},{"s":17,"t":0.604,"i":-0.12},{"s":17,"t":0.607,"i":-0.095},{"s":17,"t":0.611,"i":-0.086},{"s":17,"t":0.616,"i":-0.09},{"s":17,"t":0.622,"i":-0.081},{"s":17,"t":0.628,"i":-0.086},{"s":17,"t":0.634,"i":-0.079},{"s":17,"t":0.64,"i":-0.084},{"s":17,"t":0.646,"i":-0.077},{"s":17,"t":0.652,"i":-0.081},{"s":17,"t":0.658,"i":-0.075},{"s":17,"t":0.664,"i":-0.079},{"s":17,"t":0.67,"i":-0.07},{"s":17,"t":0.676,"i":-0.074},{"s":17,"t":0.682,"i":-0.065},{"s":17,"t":0.688,"i":-0.058},{"s":17,"t":0.694,"i":-0.052},{"s":17,"t":0.699,"i":-0.055}
  ]},
  "layer": [
    {
      "mark": {"type": "line", "color": "#ff0000", "strokeWidth": 1.4, "clip": true},
      "encoding": {
        "x": {"field": "t", "type": "quantitative", "scale": {"domain": [0.0018, 0.6993], "nice": false, "zero": false},
              "axis": {"values": [0.1, 0.6], "format": ".1f", "title": "t [s]", "labelPadding": 18, "titlePadding": 10}},
        "y": {"field": "i", "type": "quantitative", "scale": {"domain": [-0.418, 1.503], "nice": false, "zero": false},
              "axis": {"values": [0, 0.6, 1.2], "format": ".1~f", "title": "I [nA]", "labelPadding": 16, "titlePadding": 12}},
        "detail": {"field": "s"}
      }
    },
    {
      "data": {"values": [{"label": "35 °C\u00a0 Activation"}]},
      "mark": {"type": "text", "align": "right", "baseline": "alphabetic", "fontSize": 19, "font": "DejaVu Sans", "color": "black"},
      "encoding": {"x": {"datum": 0.697}, "y": {"datum": 1.482}, "text": {"field": "label"}}
    },
    {
      "data": {"values": [{"label": "BBP Channelpedia ID 30031 rep 1"}]},
      "mark": {"type": "text", "align": "center", "baseline": "middle", "angle": 270, "fontSize": 14, "font": "DejaVu Sans", "color": "black"},
      "encoding": {"x": {"datum": 0.712}, "y": {"datum": 0.5426}, "text": {"field": "label"}}
    }
  ]
}
